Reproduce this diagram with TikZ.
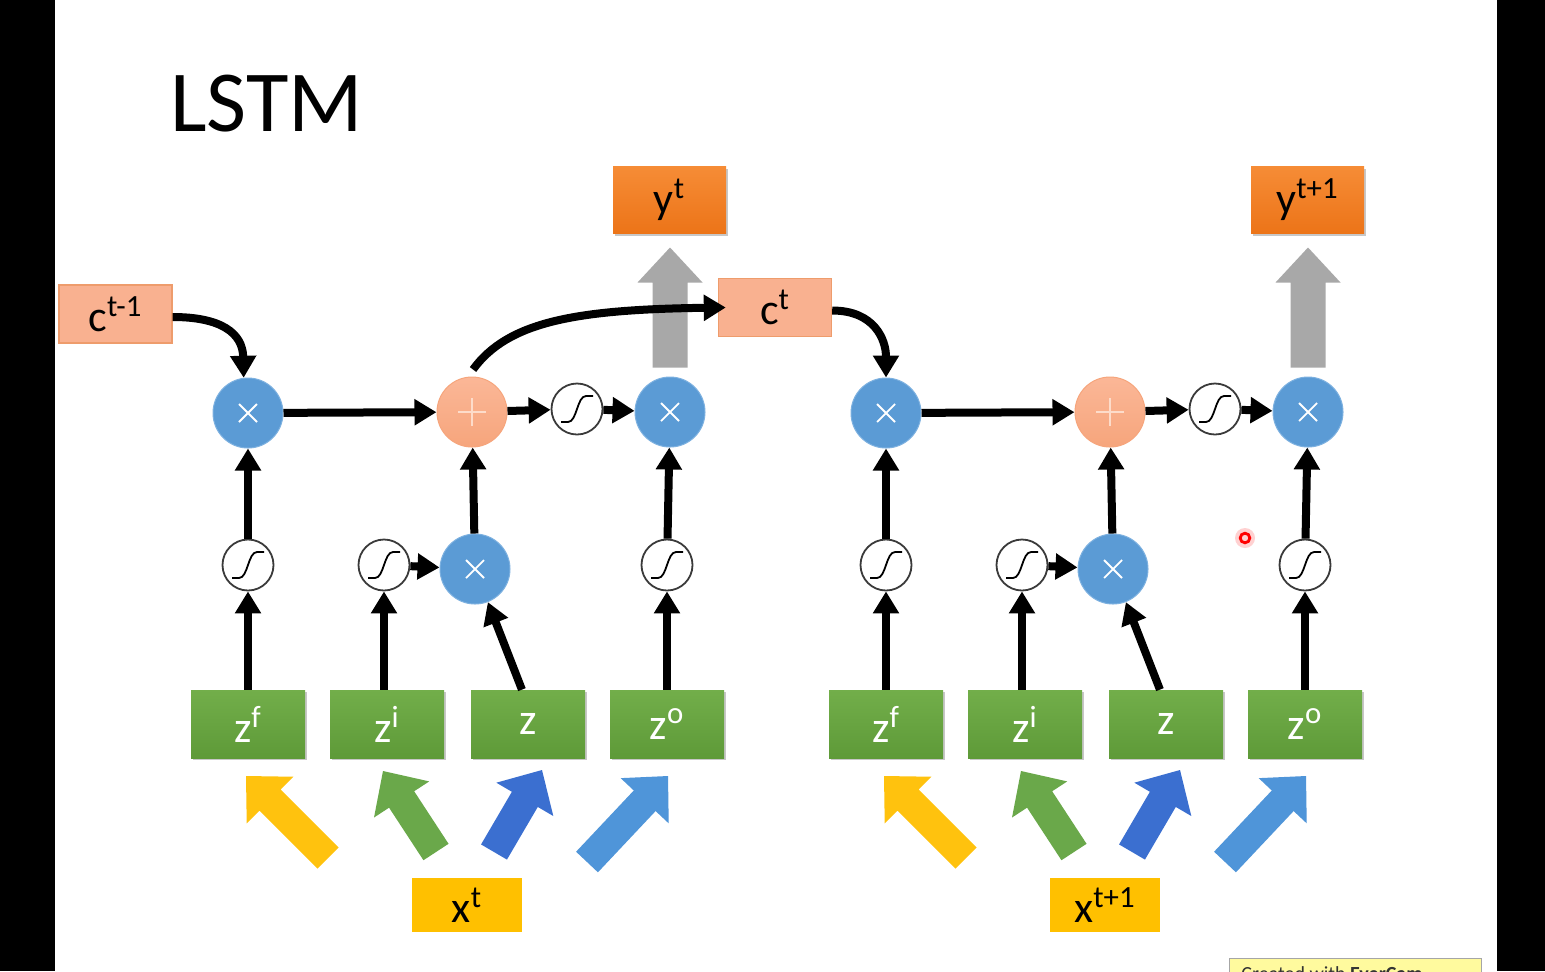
\documentclass[tikz,border=0pt]{standalone}
\usepackage{fontspec}
\setmainfont{Carlito}
\usetikzlibrary{arrows.meta,calc,shadows}
\definecolor{cfill}{HTML}{F9B190}
\definecolor{cborder}{HTML}{EE9C6C}
\definecolor{ytop}{HTML}{F68C36}
\definecolor{ybot}{HTML}{EC7418}
\definecolor{ztop}{HTML}{72AE4A}
\definecolor{zbot}{HTML}{5E9A38}
\definecolor{xyel}{HTML}{FFC000}
\definecolor{mulblue}{HTML}{5B9BD5}
\definecolor{mulborder}{HTML}{7DB1E0}
\definecolor{addtop}{HTML}{FBB797}
\definecolor{addbot}{HTML}{F6A57C}
\definecolor{plusc}{HTML}{FDDCCA}
\definecolor{sigborder}{HTML}{3A3A3A}
\definecolor{fyel}{HTML}{FFC20E}
\definecolor{fgreen}{HTML}{6AA84A}
\definecolor{fblue}{HTML}{3B6FD0}
\definecolor{flblue}{HTML}{4F95D9}
\definecolor{grayarrow}{HTML}{A8A8A8}
\newcommand\fatarrow[3]{%
  \coordinate (fa-b) at ($(#3)!17pt!(#2)$);
  \fill[#1] ($(#2)!7.5pt!90:(#3)$) -- ($(fa-b)!7.5pt!90:(#3)$) -- ($(fa-b)!16.5pt!90:(#3)$) -- (#3)
     -- ($(fa-b)!16.5pt!-90:(#3)$) -- ($(fa-b)!7.5pt!-90:(#3)$) -- ($(#2)!7.5pt!-90:(#3)$) -- cycle;}
\tikzset{
  boxfont/.style={font=\fontsize{22}{24}\selectfont},
  shad/.style={drop shadow={shadow xshift=0.8pt, shadow yshift=-1.2pt, opacity=0.22, fill=black}},
  cbox/.style={rectangle, boxfont, fill=cfill, draw=cborder, line width=0.7pt, minimum width=56.5pt, minimum height=29pt, inner sep=0pt},
  ybox/.style={rectangle, boxfont, top color=ytop, bottom color=ybot, minimum width=56.5pt, minimum height=33.5pt, inner sep=0pt, shad},
  zbox/.style={rectangle, boxfont, text=white, top color=ztop, bottom color=zbot, minimum width=57pt, minimum height=34pt, inner sep=0pt, shad},
  xbox/.style={rectangle, boxfont, fill=xyel, minimum width=55pt, minimum height=27pt, inner sep=0pt},
  mul/.style={circle, fill=mulblue, draw=mulborder, line width=0.5pt, minimum size=35pt, inner sep=0pt},
  add/.style={circle, top color=addtop, bottom color=addbot, draw=addbot, line width=0.5pt, minimum size=35pt, inner sep=0pt},
  sigc/.style={circle, fill=white, draw=sigborder, line width=0.9pt, minimum size=25.5pt, inner sep=0pt},
  conn/.style={line width=4pt, -{Triangle[width=12.5pt,length=11pt]}},
  timessym/.pic={\draw[white, line width=0.9pt] (-9,-9) -- (9,9) (-9,9) -- (9,-9);},
  plussym/.pic={\draw[plusc, line width=1pt] (-14,0) -- (14,0) (0,-14) -- (0,14);},
  sigmsym/.pic={\draw[black, line width=0.9pt] (-16,13) -- (-9,13) .. controls (0,13) and (0,-13) .. (9,-13) -- (16,-13);}
}
\begin{document}
\begin{tikzpicture}[x=0.5pt,y=-0.5pt]
\useasboundingbox (0,0) rectangle (1545,971);
\fill[white] (0,0) rectangle (1545,971);
\fill[black] (0,0) rectangle (55,971);
\fill[black] (1497,0) rectangle (1545,971);

\node[anchor=base west, inner sep=0pt, font=\fontsize{43.5}{46}\selectfont] (title) at (170,131) {LSTM};

\node[cbox] (cprev) at (115.5,314) {c\textsuperscript{t-1}};
\node[cbox] (ct) at (775,307.5) {c\textsuperscript{t}};

\foreach \k/\dx/\lab in {a/0/t, b/638/t+1}{
\begin{scope}[shift={(\dx,0)}]
  % fat input arrows
  \coordinate (yt\k) at (328,858); \coordinate (yh\k) at (246,776);
  \coordinate (gt\k) at (436,852); \coordinate (gh\k) at (383,771);
  \coordinate (bt\k) at (494,852); \coordinate (bh\k) at (542,770);
  \coordinate (lt\k) at (587,862); \coordinate (lh\k) at (668,776);
  \fatarrow{fyel}{yt\k}{yh\k}
  \fatarrow{fgreen}{gt\k}{gh\k}
  \fatarrow{fblue}{bt\k}{bh\k}
  \fatarrow{flblue}{lt\k}{lh\k}
  % nodes
  \node[mul] (f\k) at (248,413) {};
  \node[add] (p\k) at (472,412) {};
  \node[sigc] (sc\k) at (577,409) {};
  \node[mul] (o\k) at (670,412) {};
  \node[sigc] (sf\k) at (248,565) {};
  \node[sigc] (si\k) at (384,565) {};
  \node[mul] (mi\k) at (475,569) {};
  \node[sigc] (so\k) at (667,565) {};
  \pic at (f\k) {timessym};
  \pic at (o\k) {timessym};
  \pic at (mi\k) {timessym};
  \pic at (p\k) {plussym};
  \pic at (sc\k) {sigmsym};
  \pic at (sf\k) {sigmsym};
  \pic at (si\k) {sigmsym};
  \pic at (so\k) {sigmsym};
  \node[zbox] (zf\k) at (248,724) {z\textsuperscript{f}};
  \node[zbox] (zi\k) at (387,724) {z\textsuperscript{i}};
  \node[zbox] (zz\k) at (528,724) {z};
  \node[zbox] (zo\k) at (667,724) {z\textsuperscript{o}};
  \node[xbox] (x\k) at (467,905) {x\textsuperscript{\lab}};
  \node[ybox] (y\k) at (669.5,200) {y\textsuperscript{\lab}};
  % gray output arrow
  \begin{scope}[shift={(o\k.north)}]
    \fill[grayarrow] (-17.5,-9) -- (-17.5,-94) -- (-32.5,-94) -- (0,-129) -- (32.5,-94) -- (17.5,-94) -- (17.5,-9) -- cycle;
  \end{scope}
  % connectors
  \draw[conn] (zf\k) -- (sf\k);
  \draw[conn] (sf\k) -- (f\k);
  \draw[conn] (zi\k.north -| si\k) -- (si\k);
  \draw[conn] (si\k) -- (mi\k);
  \draw[conn] (zz\k.100) -- (mi\k);
  \draw[conn] (mi\k) -- (p\k);
  \draw[conn] (f\k) -- (p\k);
  \draw[conn] (p\k) -- (sc\k);
  \draw[conn] (sc\k) -- (o\k);
  \draw[conn] (zo\k) -- (so\k);
  \draw[conn] (so\k) -- (o\k);
\end{scope}
}

\draw[conn] ([yshift=-1.5pt]cprev.east) .. controls +(48,0) and +(-1,-45) .. (fa.97);
\draw[conn] ([shift={(1,-7)}]pa.north) .. controls +(35,-48) and +(-150,2) .. ([xshift=4pt]ct.west);
\draw[conn] ([yshift=-1.5pt]ct.east) .. controls +(42,0) and +(0,-38) .. (fb.north);

% laser pointer dot
\fill[red!18] (1245,538) circle (5pt);
\draw[red, line width=1.4pt] (1245,538) circle (2.4pt);

% recorder watermark (cut by the frame, as in the reference)
\node[draw=gray!70, fill=yellow!38, anchor=north west, minimum width=126pt, minimum height=20pt, inner sep=0pt] (ec) at (1229,958) {};
\node[anchor=north west, inner sep=0pt, font=\fontsize{10}{12}\selectfont, text=black!80] (ectext) at (1241,966) {Created with \textbf{EverCam}};
\end{tikzpicture}
\end{document}
